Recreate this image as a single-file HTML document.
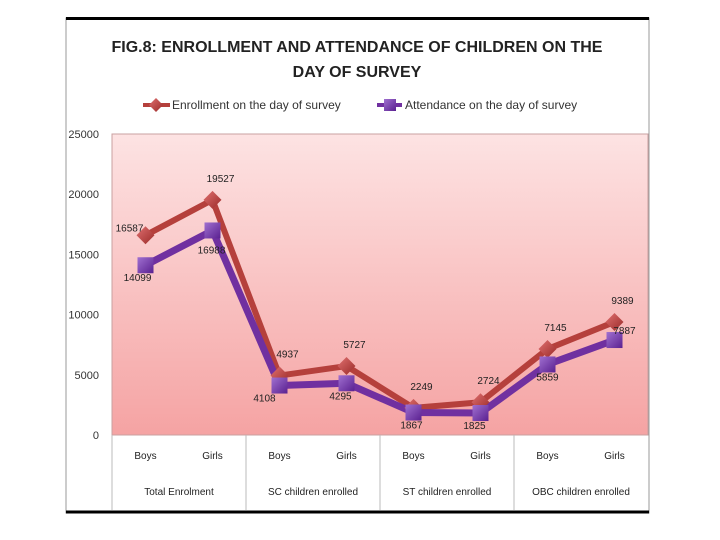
<!DOCTYPE html>
<html><head><meta charset="utf-8"><style>
body{margin:0;background:#fff;width:720px;height:540px;overflow:hidden;font-family:"Liberation Sans",sans-serif}
</style></head><body>
<svg width="720" height="540" style="position:absolute;left:0;top:0">
<defs>
<linearGradient id="bg" x1="0" y1="0" x2="0" y2="1"><stop offset="0" stop-color="#fde3e3"/><stop offset="1" stop-color="#f5a3a3"/></linearGradient>
<linearGradient id="sq" x1="0" y1="0" x2="1" y2="1"><stop offset="0" stop-color="#a070d0"/><stop offset="1" stop-color="#5a2090"/></linearGradient>
<linearGradient id="dm" x1="0" y1="0" x2="1" y2="1"><stop offset="0" stop-color="#e07070"/><stop offset="1" stop-color="#9a2a28"/></linearGradient>
</defs>
<rect x="66" y="18" width="583" height="495" fill="#fff" stroke="#999" stroke-width="1"/>
<line x1="66" y1="18.5" x2="649" y2="18.5" stroke="#000" stroke-width="3"/>
<line x1="66" y1="512" x2="649" y2="512" stroke="#000" stroke-width="3"/>
<text x="357" y="52" text-anchor="middle" font-size="16" font-weight="bold" fill="#222">FIG.8: ENROLLMENT AND ATTENDANCE OF CHILDREN ON THE</text>
<text x="357" y="77" text-anchor="middle" font-size="16" font-weight="bold" fill="#222">DAY OF SURVEY</text>
<g>
<line x1="143" y1="105" x2="170" y2="105" stroke="#b5403c" stroke-width="4"/>
<path d="M156 98 L163 105 L156 112 L149 105Z" fill="url(#dm)"/>
<text x="172" y="109" font-size="12" fill="#333">Enrollment on the day of survey</text></g>
<g>
<line x1="377" y1="105" x2="402" y2="105" stroke="#7030a0" stroke-width="4"/>
<rect x="384" y="99" width="12" height="12" fill="url(#sq)"/>
<text x="405" y="109" font-size="12" fill="#333">Attendance on the day of survey</text></g>
<rect x="112" y="134" width="536" height="301" fill="url(#bg)" stroke="#c9a0a0"/>
<g id="yaxis"></g>
<g id="xaxis"></g>
<g id="series"></g>
</svg>
<script>
const categories=["Boys","Girls","Boys","Girls","Boys","Girls","Boys","Girls"];
const groups=["Total Enrolment","SC children enrolled","ST children enrolled","OBC children enrolled"];
const enrollment=[16587,19527,4937,5727,2249,2724,7145,9389];
const attendance=[14099,16988,4108,4295,1867,1825,5859,7887];
const yTicks=[0,5000,10000,15000,20000,25000];
const NS="http://www.w3.org/2000/svg";
const X0=112,X1=648,Y0=435,Y1=134,YMAX=25000;
const xs=i=>X0+(X1-X0)/categories.length*(i+0.5);
const ys=v=>Y0-(Y0-Y1)*v/YMAX;
function mk(t,a,p){const e=document.createElementNS(NS,t);for(const k in a)e.setAttribute(k,a[k]);p.appendChild(e);return e;}
const ya=document.getElementById('yaxis'),xa=document.getElementById('xaxis'),se=document.getElementById('series');
yTicks.forEach(v=>{const t=mk('text',{x:99,y:ys(v)+4,'text-anchor':'end','font-size':11,fill:'#333'},ya);t.textContent=v;

});
categories.forEach((c,i)=>{const t=mk('text',{x:xs(i),y:459,'text-anchor':'middle','font-size':10,fill:'#222'},xa);t.textContent=c;

});
const gw=(X1-X0)/groups.length;
groups.forEach((g,i)=>{const t=mk('text',{x:X0+gw*(i+0.5),y:495,'text-anchor':'middle','font-size':10,fill:'#222'},xa);t.textContent=g;


mk('line',{x1:X0+gw*i,y1:Y0,x2:X0+gw*i,y2:510,stroke:'#bbb'},xa);});
function line(vals,col,w){mk('polyline',{points:vals.map((v,i)=>xs(i)+','+ys(v)).join(' '),fill:'none',stroke:col,'stroke-width':w,'stroke-linejoin':'round'},se);}
line(enrollment,'#b5403c',6);line(attendance,'#7030a0',7);
enrollment.forEach((v,i)=>{const x=xs(i),y=ys(v);const p=mk('path',{d:`M${x} ${y-9}L${x+9} ${y}L${x} ${y+9}L${x-9} ${y}Z`,fill:'url(#dm)'},se);


const t=mk('text',{x:i==0?x-16:x+8,y:y-(i==0?4:18),'text-anchor':'middle','font-size':10,fill:'#222'},se);t.textContent=v;});
attendance.forEach((v,i)=>{const x=xs(i),y=ys(v);const r=mk('rect',{x:x-8,y:y-8,width:16,height:16,fill:'url(#sq)'},se);


const dx=i==0?-8:(i==1?0:(i%2?0:-14));const dx2=[-8,-1,-15,-6,-2,-6,0,10][i];
const t=mk('text',{x:x+dx2,y:y+(i==1?23:i==7?-6:16),'text-anchor':'middle','font-size':10,fill:'#222'},se);t.textContent=v;});
</script>
</body></html>
